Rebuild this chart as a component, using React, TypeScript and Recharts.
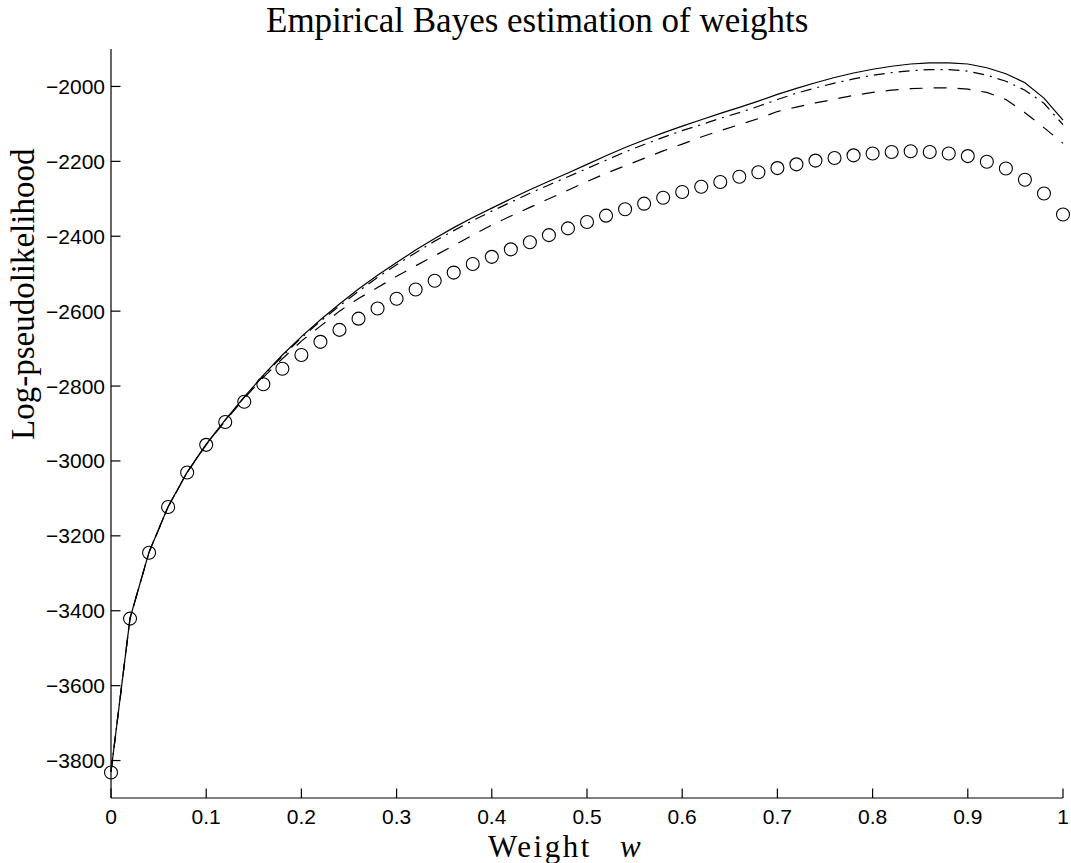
import React from "react";
import { LineChart, Line, XAxis, YAxis } from "recharts";

const weights = [
  0, 0.02, 0.04, 0.06, 0.08, 0.1, 0.12, 0.14, 0.16, 0.18, 0.2, 0.22, 0.24, 0.26, 0.28, 0.3, 0.32,
  0.34, 0.36, 0.38, 0.4, 0.42, 0.44, 0.46, 0.48, 0.5, 0.52, 0.54, 0.56, 0.58, 0.6, 0.62, 0.64,
  0.66, 0.68, 0.7, 0.72, 0.74, 0.76, 0.78, 0.8, 0.82, 0.84, 0.86, 0.88, 0.9, 0.92, 0.94, 0.96,
  0.98, 1,
];

const solid = [
  -3830, -3420, -3243, -3122, -3030, -2955, -2890, -2829, -2771, -2717, -2668, -2623, -2581,
  -2541, -2504, -2470, -2437, -2406, -2377, -2350, -2325, -2300, -2276, -2253, -2231, -2208,
  -2185, -2163, -2143, -2124, -2106, -2089, -2072, -2056, -2039, -2021, -2005, -1990, -1976,
  -1964, -1954, -1946, -1940, -1937, -1937, -1940, -1950, -1966, -1990, -2031, -2090,
];

const dashDot = [
  -3830, -3420, -3243, -3122, -3030, -2956, -2891, -2830, -2773, -2720, -2671, -2627, -2586,
  -2547, -2510, -2476, -2444, -2413, -2385, -2358, -2333, -2309, -2285, -2263, -2241, -2219,
  -2197, -2175, -2155, -2136, -2118, -2102, -2085, -2070, -2053, -2035, -2018, -2004, -1991,
  -1980, -1970, -1963, -1958, -1955, -1955, -1959, -1970, -1986, -2010, -2045, -2102,
];

const dashed = [
  -3830, -3420, -3244, -3123, -3031, -2957, -2893, -2833, -2777, -2727, -2680, -2640, -2600,
  -2566, -2537, -2507, -2479, -2452, -2425, -2397, -2370, -2346, -2323, -2300, -2277, -2254,
  -2232, -2212, -2192, -2172, -2154, -2135, -2118, -2102, -2086, -2067, -2055, -2044, -2034,
  -2024, -2016, -2010, -2006, -2004, -2004, -2007, -2016, -2035, -2070, -2110, -2152,
];

const circles = [
  -3832, -3421, -3245, -3123, -3031, -2957, -2896, -2842, -2795, -2754, -2717, -2682, -2650,
  -2620, -2593, -2567, -2542, -2519, -2497, -2474, -2455, -2435, -2416, -2397, -2379, -2362,
  -2345, -2328, -2313, -2297, -2282, -2268, -2255, -2241, -2229, -2218, -2208, -2198, -2191,
  -2184, -2179, -2175, -2173, -2175, -2179, -2186, -2201, -2219, -2249, -2286, -2342,
];

const xTicks = [0, 0.1, 0.2, 0.3, 0.4, 0.5, 0.6, 0.7, 0.8, 0.9, 1];
const yTicks = [-3800, -3600, -3400, -3200, -3000, -2800, -2600, -2400, -2200, -2000];

const data = weights.map((w, i) => ({
  w,
  solid: solid[i],
  dashDot: dashDot[i],
  dashed: dashed[i],
  circles: circles[i],
}));

const tickFont = "Arial, 'Liberation Sans', sans-serif";
const labelFont = "'Liberation Serif', 'Times New Roman', serif";

// MATLAB-style ticks: drawn inward, labels outside
const XTick = (props: any) => {
  const { x, y, payload } = props;
  return (
    <g>
      <line x1={x} y1={y} x2={x} y2={y - 9.5} stroke="#000" strokeWidth={1.2} />
      <text x={x} y={y + 26} textAnchor="middle" fontSize={21} fontFamily={tickFont} fill="#000">
        {String(payload.value)}
      </text>
    </g>
  );
};

const YTick = (props: any) => {
  const { x, y, payload } = props;
  return (
    <g>
      <line x1={x} y1={y} x2={x + 9.5} y2={y} stroke="#000" strokeWidth={1.2} />
      <text x={x - 6} y={y + 7.5} textAnchor="end" fontSize={21} fontFamily={tickFont} fill="#000">
        {"\u2212" + Math.abs(payload.value)}
      </text>
    </g>
  );
};

export default function App() {
  return (
    <div style={{ position: "absolute", left: 0, top: 0, width: 1071, height: 863, background: "#fff" }}>
      <LineChart width={1071} height={863} data={data} margin={{ top: 49, right: 8, bottom: 0, left: 0 }}>
        <XAxis
          dataKey="w"
          type="number"
          domain={[0, 1]}
          ticks={xTicks}
          height={65}
          tickSize={0}
          tickMargin={0}
          tickLine={false}
          tick={<XTick />}
          axisLine={{ stroke: "#000", strokeWidth: 1.2 }}
          interval={0}
        />
        <YAxis
          type="number"
          domain={[-3900, -1900]}
          ticks={yTicks}
          width={111}
          tickSize={0}
          tickMargin={0}
          tickLine={false}
          tick={<YTick />}
          axisLine={{ stroke: "#000", strokeWidth: 1.2 }}
          interval={0}
        />
        <Line dataKey="solid" type="linear" stroke="#000" strokeWidth={1.2} dot={false} isAnimationActive={false} />
        <Line
          dataKey="dashDot"
          type="linear"
          stroke="#000"
          strokeWidth={1.2}
          strokeDasharray="11 6 2 6"
          dot={false}
          isAnimationActive={false}
        />
        <Line
          dataKey="dashed"
          type="linear"
          stroke="#000"
          strokeWidth={1.2}
          strokeDasharray="13 11"
          dot={false}
          isAnimationActive={false}
        />
        <Line
          dataKey="circles"
          type="linear"
          stroke="none"
          dot={{ r: 6.5, stroke: "#000", strokeWidth: 1.1, fill: "none" }}
          isAnimationActive={false}
        />
      </LineChart>
      <svg
        width={1071}
        height={863}
        style={{ position: "absolute", left: 0, top: 0, pointerEvents: "none" }}
      >
        <text x={266} y={32} fontSize={35} fontFamily={labelFont} fill="#000">
          Empirical Bayes estimation of weights
        </text>
        <text x={488} y={857} fontSize={31} letterSpacing={2.5} fontFamily={labelFont} fill="#000">
          Weight
        </text>
        <text x={620} y={857} fontSize={31} fontStyle="italic" fontFamily={labelFont} fill="#000">
          w
        </text>
        <text
          x={0}
          y={0}
          transform="translate(34, 440) rotate(-90)"
          fontSize={33}
          fontFamily={labelFont}
          fill="#000"
        >
          Log-pseudolikelihood
        </text>
      </svg>
    </div>
  );
}
